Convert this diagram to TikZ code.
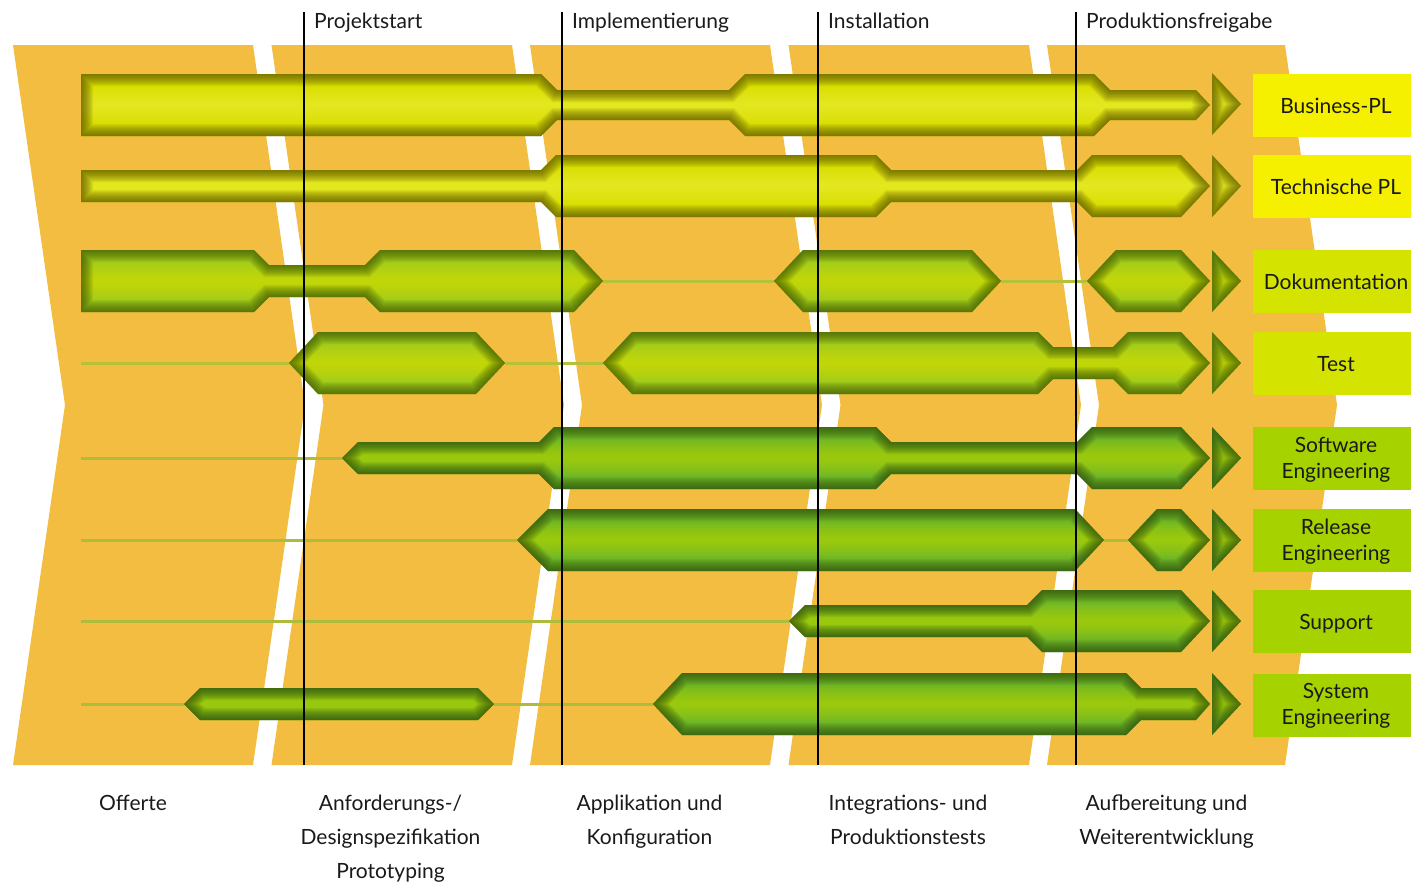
\documentclass[tikz,border=0pt]{standalone}
\usepackage{fontspec}
\setmainfont{Lato}
\definecolor{bandorange}{HTML}{F2BD40}
\definecolor{Ybase}{HTML}{D8DE00}
\definecolor{Yhi}{HTML}{F2F23A}
\definecolor{Yedge}{HTML}{4A4200}
\definecolor{Yline}{HTML}{C8C830}
\definecolor{Gbase}{HTML}{A2CC1A}
\definecolor{Ghi}{HTML}{DDE400}
\definecolor{Gedge}{HTML}{304800}
\definecolor{Gline}{HTML}{B4C23A}
\definecolor{Kbase}{HTML}{6EB626}
\definecolor{Khi}{HTML}{C2DC00}
\definecolor{Kedge}{HTML}{243F0A}
\definecolor{Kline}{HTML}{AEBC3C}
\definecolor{boxY}{HTML}{F5EF00}
\definecolor{boxG}{HTML}{D4E400}
\definecolor{boxK}{HTML}{A6D200}
\definecolor{ink}{HTML}{1A1A1A}

% one shaded tube segment: #1 row centre, #2 palette, #3 outline (relative to the centre)
\newcommand\tube[3]{%
  \begin{scope}[shift={(0,#1)}]
    \begin{scope}
      \clip #3;
      \fill[#2base] (0,-40) rectangle (1300,40);
      \foreach \w in {4,8,...,36}
        \draw[#2hi, line width=\w, opacity=.09] (0,0) -- (1300,0);
      \foreach \w in {2,4,...,24}
        \draw[#2edge, line width=\w, opacity=.075] #3;
    \end{scope}
  \end{scope}}
% thin connecting line of a row
\newcommand\thread[4]{\draw[#2line, line width=3] (#3,#1) -- (#4,#1);}
% closing arrow of a row
\newcommand\rowarrow[2]{\tube{#1}{#2}{(1212,-31)--(1241,0)--(1212,31)--cycle}}

\begin{document}
\begin{tikzpicture}[x=1pt,y=-1pt,
  band/.style={fill=bandorange},
  milestone/.style={draw=black, line width=1.2},
  txt/.style={inner sep=0, text=ink, font=\fontsize{21}{26}\selectfont},
  rolebox/.style={inner sep=0, minimum width=167, minimum height=63, anchor=west}]

\useasboundingbox (0,0) rectangle (1411,884);
\fill[white] (0,0) rectangle (1411,884);

% phase bands
\foreach \l/\r in {13/253, 271.5/512, 530/770, 788.5/1029, 1047/1285}
  \fill[band] (\l,45) -- (\l+52,405) -- (\l,765) -- (\r,765) -- (\r+52,405) -- (\r,45) -- cycle;

% role boxes
\node[rolebox, fill=boxY] (b1) at (1253,105.5) {};
\node[rolebox, fill=boxY] (b2) at (1253,186.5) {};
\node[rolebox, fill=boxG] (b3) at (1253,281.5) {};
\node[rolebox, fill=boxG] (b4) at (1253,363.5) {};
\node[rolebox, fill=boxK] (b5) at (1253,458.5) {};
\node[rolebox, fill=boxK] (b6) at (1253,540.5) {};
\node[rolebox, fill=boxK] (b7) at (1253,621.5) {};
\node[rolebox, fill=boxK] (b8) at (1253,705) {};

% thin threads
\thread{281}{G}{603}{774}
\thread{281}{G}{1001}{1087}
\thread{363}{G}{81}{289}
\thread{363}{G}{505}{603}
\thread{458}{K}{81}{342}
\thread{540}{K}{81}{517}
\thread{540}{K}{1104}{1128}
\thread{621}{K}{81}{789}
\thread{704}{K}{81}{184}
\thread{704}{K}{494}{653}

% Business-PL
\tube{105}{Y}{(81,-31)--(541,-31)--(557,-15)--(729,-15)--(745,-31)--(1094,-31)--(1110,-15)--(1196,-15)--(1210,0)--(1196,15)--(1110,15)--(1094,31)--(745,31)--(729,15)--(557,15)--(541,31)--(81,31)--cycle}
\rowarrow{104}{Y}
% Technische PL
\tube{186}{Y}{(81,-16)--(541,-16)--(556,-31)--(876,-31)--(891,-16)--(1077,-16)--(1092,-31)--(1181,-31)--(1210,0)--(1181,31)--(1092,31)--(1077,16)--(891,16)--(876,31)--(556,31)--(541,16)--(81,16)--cycle}
\rowarrow{186}{Y}
% Dokumentation
\tube{281}{G}{(81,-31)--(254,-31)--(269,-16)--(365,-16)--(380,-31)--(574,-31)--(603,0)--(574,31)--(380,31)--(365,16)--(269,16)--(254,31)--(81,31)--cycle}
\tube{281}{G}{(774,0)--(803,-31)--(972,-31)--(1001,0)--(972,31)--(803,31)--cycle}
\tube{281}{G}{(1087,0)--(1116,-31)--(1181,-31)--(1210,0)--(1181,31)--(1116,31)--cycle}
\rowarrow{281}{G}
% Test
\tube{363}{G}{(289,0)--(318,-31)--(476,-31)--(505,0)--(476,31)--(318,31)--cycle}
\tube{363}{G}{(603,0)--(632,-31)--(1038,-31)--(1053,-16)--(1113,-16)--(1128,-31)--(1181,-31)--(1210,0)--(1181,31)--(1128,31)--(1113,16)--(1053,16)--(1038,31)--(632,31)--cycle}
\rowarrow{363}{G}
% Software Engineering
\tube{458}{K}{(342,0)--(358,-16)--(539,-16)--(554,-31)--(876,-31)--(891,-16)--(1077,-16)--(1092,-31)--(1181,-31)--(1210,0)--(1181,31)--(1092,31)--(1077,16)--(891,16)--(876,31)--(554,31)--(539,16)--(358,16)--cycle}
\rowarrow{458}{K}
% Release Engineering
\tube{540}{K}{(517,0)--(548,-31)--(1075,-31)--(1104,0)--(1075,31)--(548,31)--cycle}
\tube{540}{K}{(1128,0)--(1157,-31)--(1181,-31)--(1210,0)--(1181,31)--(1157,31)--cycle}
\rowarrow{540}{K}
% Support
\tube{621}{K}{(789,0)--(805,-16)--(1027,-16)--(1042,-31)--(1181,-31)--(1210,0)--(1181,31)--(1042,31)--(1027,16)--(805,16)--cycle}
\rowarrow{621}{K}
% System Engineering
\tube{704}{K}{(184,0)--(200,-16)--(478,-16)--(494,0)--(478,16)--(200,16)--cycle}
\tube{704}{K}{(653,0)--(682,-31)--(1126,-31)--(1141,-16)--(1196,-16)--(1210,0)--(1196,16)--(1141,16)--(1126,31)--(682,31)--cycle}
\rowarrow{704}{K}

% milestone lines
\foreach \x/\n in {304/a, 562/b, 818/c, 1076/d} {
  \coordinate (ms\n top) at (\x,12);
  \coordinate (ms\n bot) at (\x,765);
  \draw[milestone] (ms\n top) -- (ms\n bot);
}

% milestone names
\node[txt, anchor=base west] (m1) at (314,28) {Projektstart};
\node[txt, anchor=base west] (m2) at (572,28) {Implementierung};
\node[txt, anchor=base west] (m3) at (828,28) {Installation};
\node[txt, anchor=base west] (m4) at (1086,28) {Produktionsfreigabe};

% role names
\node[txt, anchor=base] (r1) at (1336,113) {Business-PL};
\node[txt, anchor=base] (r2) at (1336,194) {Technische PL};
\node[txt, anchor=base] (r3) at (1336,289) {Dokumentation};
\node[txt, anchor=base] (r4) at (1336,371) {Test};
\node[txt, anchor=base] (r5a) at (1336,452) {Software};
\node[txt, anchor=base] (r5b) at (1336,478) {Engineering};
\node[txt, anchor=base] (r6a) at (1336,534) {Release};
\node[txt, anchor=base] (r6b) at (1336,560) {Engineering};
\node[txt, anchor=base] (r7) at (1336,629) {Support};
\node[txt, anchor=base] (r8a) at (1336,698) {System};
\node[txt, anchor=base] (r8b) at (1336,724) {Engineering};

% phase names
\node[txt, anchor=base] (p1) at (133,810) {Offerte};
\node[txt, anchor=base] (p2a) at (390.5,810) {Anforderungs-/};
\node[txt, anchor=base] (p2b) at (390.5,844) {Designspezifikation};
\node[txt, anchor=base] (p2c) at (390.5,878) {Prototyping};
\node[txt, anchor=base] (p3a) at (649.5,810) {Applikation und};
\node[txt, anchor=base] (p3b) at (649.5,844) {Konfiguration};
\node[txt, anchor=base] (p4a) at (908,810) {Integrations- und};
\node[txt, anchor=base] (p4b) at (908,844) {Produktionstests};
\node[txt, anchor=base] (p5a) at (1166.5,810) {Aufbereitung und};
\node[txt, anchor=base] (p5b) at (1166.5,844) {Weiterentwicklung};
\end{tikzpicture}
\end{document}
